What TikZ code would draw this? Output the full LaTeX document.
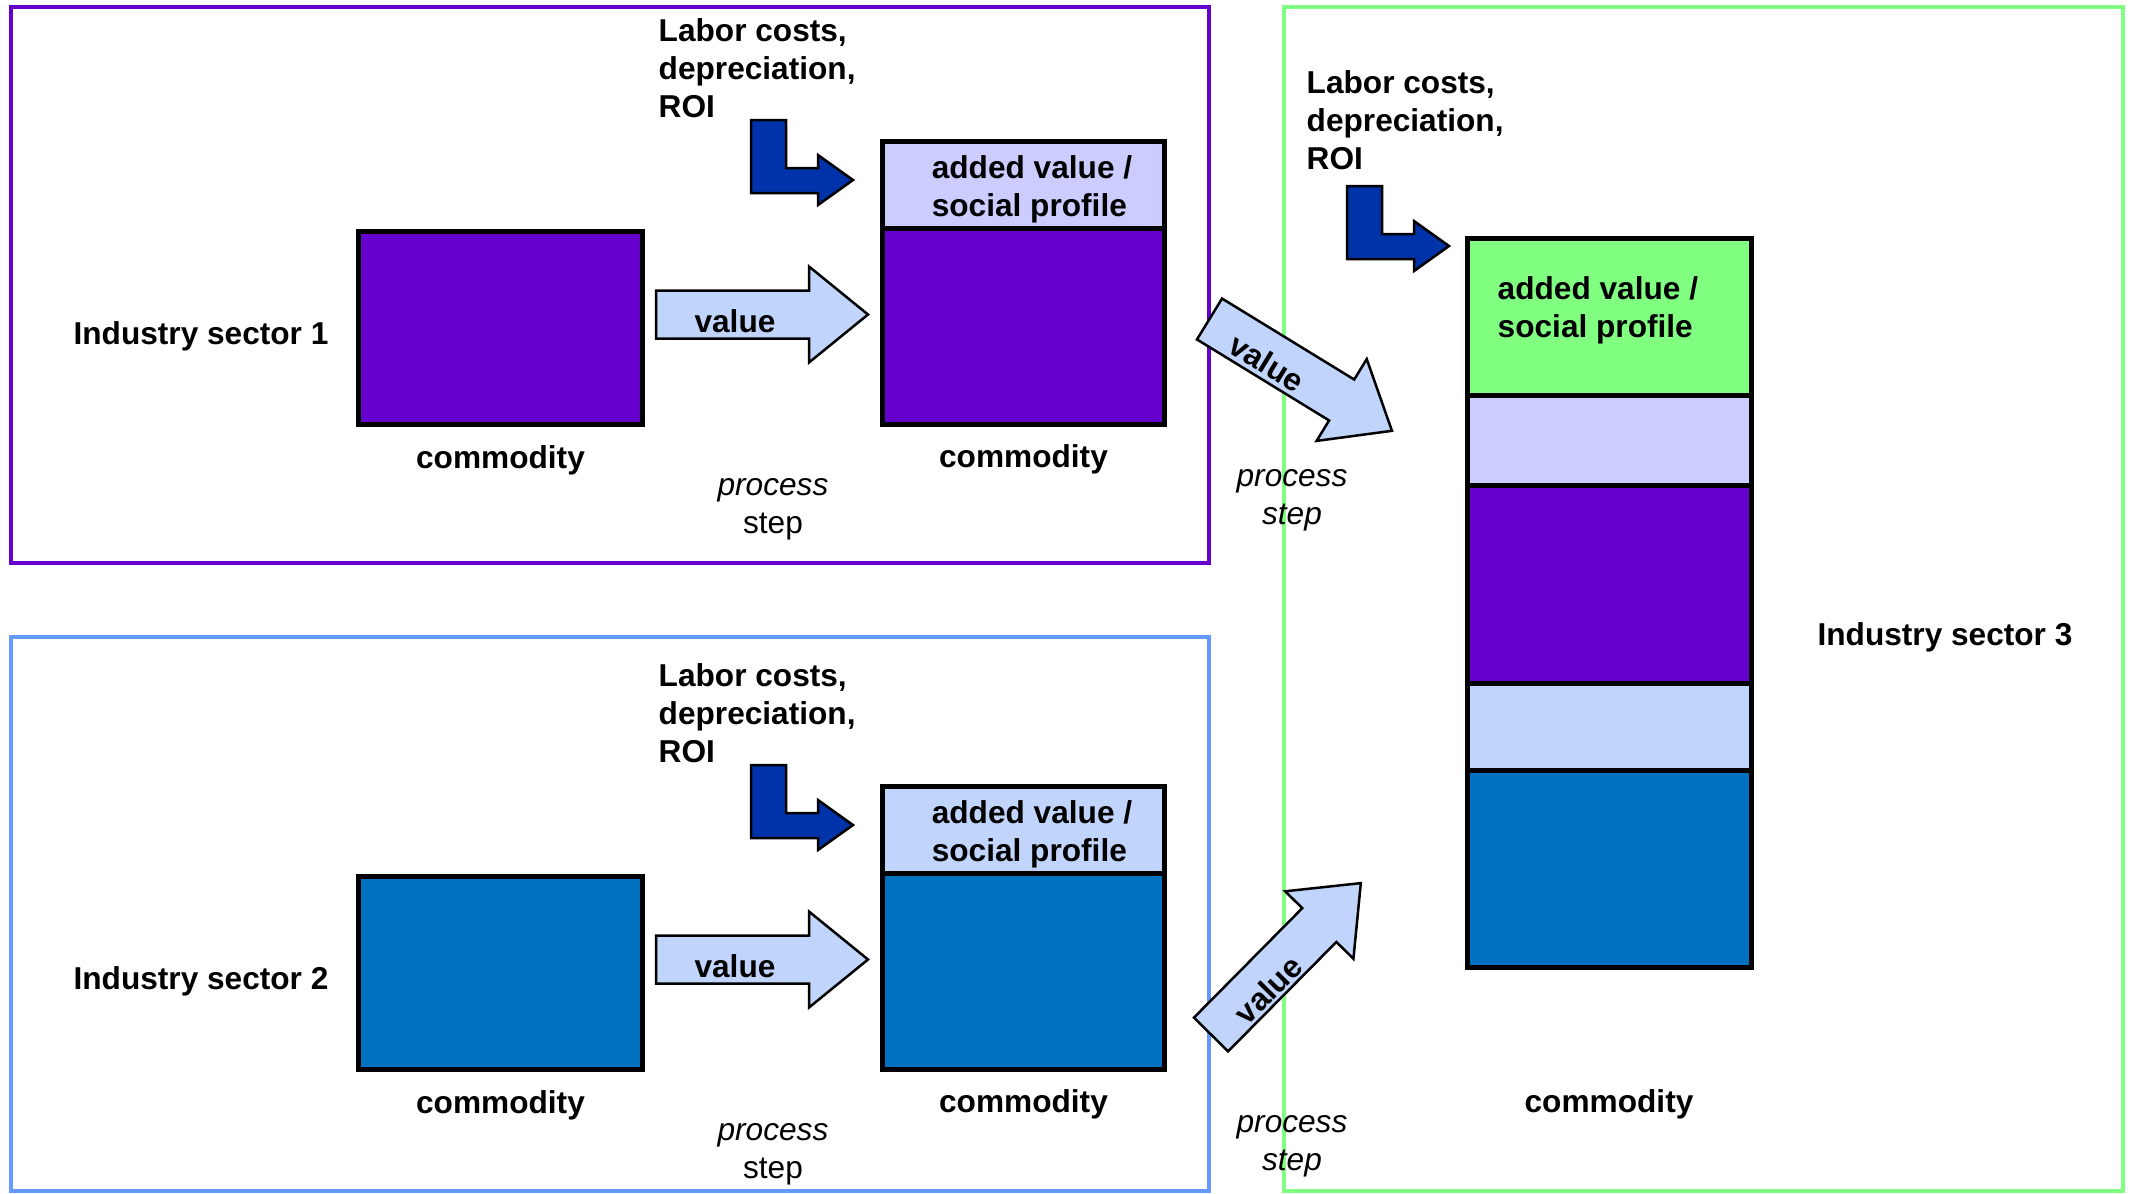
\documentclass[tikz,border=0pt]{standalone}
\usepackage{fontspec}
\setmainfont{Liberation Sans}
\usetikzlibrary{positioning}

\definecolor{secpurple}{HTML}{6600CC}
\definecolor{secblue}{HTML}{0070C0}
\definecolor{secgreen}{HTML}{80FF80}
\definecolor{avlav}{HTML}{CCCCFF}
\definecolor{avblue}{HTML}{C0D4FC}
\definecolor{costblue}{HTML}{0033AA}
\definecolor{frblue}{HTML}{6699FF}

\begin{document}
\begin{tikzpicture}[x=0.1mm,y=-0.1mm,
	txt/.style={font=\fontsize{9}{10.8}\selectfont\bfseries, inner sep=0pt},
	stepnote/.style={font=\fontsize{9}{10.8}\selectfont, inner sep=0pt, align=center},
	box/.style={draw=black, line width=0.5mm, outer sep=0pt, inner sep=0pt},
	frame/.style={line width=0.4mm},
	valarrow/.style={draw=black, line width=0.25mm, fill=avblue},
	costarrow/.style={draw=black, line width=0.25mm, fill=costblue}]

	\useasboundingbox (0,0) rectangle (2133,1193);

	% sector frames
	\draw[frame, secpurple] (11,7) rectangle (1209,563);
	\draw[frame, frblue] (11,637) rectangle (1209,1191);
	\draw[frame, secgreen] (1284,7) rectangle (2123,1191);

	% industry sectors 1 and 2
	\foreach \s/\dy/\col/\avcol in {1/0/secpurple/avlav, 2/645/secblue/avblue} {
		\node[txt] (ind\s) at (201,336+\dy) {Industry sector \s};
		\node[box, fill=\col, minimum width=28.4mm, minimum height=19.3mm] (src\s) at (500.5,328+\dy) {};
		\node[txt, below=2mm of src\s] (csrc\s) {commodity};
		\node[box, fill=\avcol, minimum width=28.2mm, minimum height=8.75mm] (av\s) at (1023.5,185+\dy) {};
		\node[box, fill=\col, minimum width=28.2mm, minimum height=19.55mm, below=0pt of av\s] (dst\s) {};
		\node[txt, align=left] (avt\s) at (1032,189+\dy) {added value /\\social profile};
		\node[txt, below=2mm of dst\s] (cdst\s) {commodity};
		\node[txt, align=left, anchor=north west] (cost\s) at (658,18+\dy) {Labor costs,\\depreciation,\\ROI};
		\node[stepnote] (ps\s) at (773,509+\dy) {\textit{process}\\step};
	}

	% industry sector 3, stacked commodity
	\node[box, fill=secgreen, minimum width=28.4mm, minimum height=15.7mm] (stk1) at (1609,317) {};
	\foreach \i/\p/\col/\h in {2/1/avlav/9, 3/2/secpurple/19.8, 4/3/avblue/8.7, 5/4/secblue/19.65}
		\node[box, fill=\col, minimum width=28.4mm, minimum height=\h mm, below=0pt of stk\p] (stk\i) {};
	\node[txt, align=left, anchor=west] (stkt) at (1497,310) {added value /\\social profile};
	\node[txt, below=12.2mm of stk5] (cstk) {commodity};
	\node[txt] (ind3) at (1945,637) {Industry sector 3};
	\node[txt, align=left, anchor=north west] (cost3) at (1306,70) {Labor costs,\\depreciation,\\ROI};
	\node[stepnote] (ps3) at (1292,500) {\textit{process}\\\textit{step}};
	\node[stepnote] (ps4) at (1292,1146) {\textit{process}\\\textit{step}};

	% cost inputs
	\foreach \bx/\by in {0/0, 0/645, 596/66}
		\draw[costarrow, shift={(\bx,\by)}] (751,120) -- (786,120) -- (786,168) -- (818,168) -- (818,155)
			-- (853,180) -- (818,205) -- (818,193) -- (751,193) -- cycle;

	% value arrows
	\foreach \n/\px/\py/\ang/\len/\tx/\ty in {h1/656/314.5/0/212/79/7, h2/656/959.5/0/212/79/7,
			d1/1209.5/319/-31.5/214/72/7, d2/1211/1034.5/45.3/213/72/9} {
		\begin{scope}[shift={(\px,\py)}, rotate=\ang]
			\draw[valarrow] (0,-24) -- (\len-59,-24) -- (\len-59,-48) -- (\len,0) -- (\len-59,48) -- (\len-59,24) -- (0,24) -- cycle;
			\node[txt, rotate=\ang] (val\n) at (\tx,\ty) {value};
		\end{scope}
	}
\end{tikzpicture}
\end{document}
